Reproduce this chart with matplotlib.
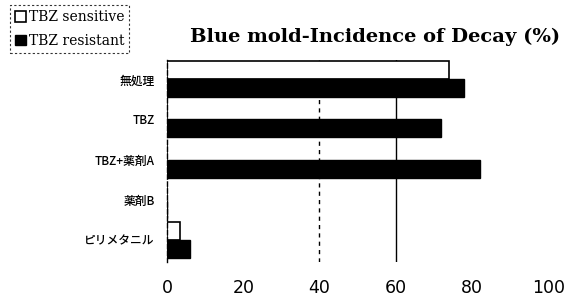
import numpy as np
import matplotlib.pyplot as plt
from matplotlib.patches import Patch

categories = ['無処理', 'TBZ', 'TBZ+薬剤A', '薬剤B', 'ピリメタニル']
sensitive = [74, 0, 0, 0, 3.5]
resistant = [78, 72, 82, 0, 6]
xticks = [0, 20, 40, 60, 80, 100]

plt.rcParams['font.family'] = ['Noto Sans CJK JP', 'DejaVu Sans']

fig = plt.figure(figsize=(5.74, 3.06), dpi=100)
ax = fig.add_axes([0.291, 0.144, 0.664, 0.66])

y = np.arange(len(categories))
h = 0.45
ax.barh(y - h / 2, sensitive, height=h, color='white', edgecolor='black', linewidth=1.2)
ax.barh(y + h / 2, resistant, height=h, color='black', edgecolor='black', linewidth=1.0)

ax.set_xlim(0, 100)
ax.set_ylim(4.55, -0.48)
ax.set_yticks(y)
ax.set_yticklabels(categories, fontsize=8.5, fontweight='medium')
ax.set_xticks(xticks)
ax.set_xticklabels([str(t) for t in xticks], fontsize=12.5, family='DejaVu Sans')
ax.tick_params(axis='both', length=0)
ax.tick_params(axis='x', pad=12)
ax.tick_params(axis='y', pad=9)

for x in [40, 60]:
    ax.axvline(x, color='black', lw=1.0, ls=(0, (3, 3)) if x == 40 else '-', zorder=0)

for s in ['top', 'right', 'bottom']:
    ax.spines[s].set_visible(False)
ax.spines['left'].set_linestyle((0, (3, 2)))
ax.spines['left'].set_linewidth(1.0)

fig.text(0.653, 0.879, 'Blue mold-Incidence of Decay (%)', ha='center', va='center',
         fontsize=14, fontweight='bold', family='DejaVu Serif')

handles = [Patch(facecolor='white', edgecolor='black', linewidth=1.2, label='TBZ sensitive'),
           Patch(facecolor='black', edgecolor='black', label='TBZ resistant')]
leg = fig.legend(handles=handles, loc='upper left', bbox_to_anchor=(0.005, 1.005),
                 prop={'family': 'DejaVu Serif', 'size': 10}, frameon=True,
                 handlelength=0.8, handleheight=0.8, handletextpad=0.2,
                 labelspacing=0.7, borderpad=0.35, fancybox=False)
leg.get_frame().set_edgecolor('black')
leg.get_frame().set_linestyle((0, (2, 2)))
leg.get_frame().set_linewidth(0.8)

fig.savefig('out.png', dpi=100)
